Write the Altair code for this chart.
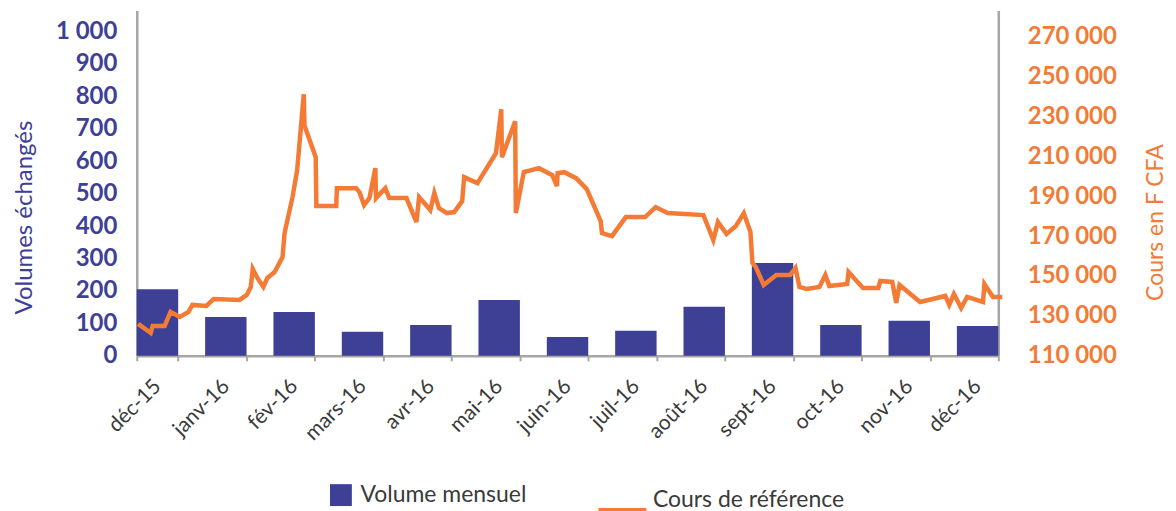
import altair as alt
import pandas as pd

# ---- data ----
months = ["déc-15", "janv-16", "fév-16", "mars-16", "avr-16", "mai-16", "juin-16",
          "juil-16", "août-16", "sept-16", "oct-16", "nov-16", "déc-16"]
volumes = [205, 120, 135, 74, 95, 172, 58, 77, 151, 286, 95, 108, 92]

# position of each price point in months from the start of the axis
price_pos = [0.02, 0.21, 0.24, 0.42, 0.51, 0.65, 0.78, 0.84, 1.05, 1.16, 1.55, 1.66,
             1.72, 1.75, 1.82, 1.91, 1.97, 2.08, 2.20, 2.23, 2.35, 2.42, 2.52, 2.53,
             2.70, 2.71, 3.01, 3.02, 3.31, 3.36, 3.43, 3.51, 3.60, 3.61, 3.75, 3.81,
             4.07, 4.22, 4.26, 4.43, 4.49, 4.56, 4.68, 4.79, 4.91, 4.94, 5.14, 5.42,
             5.50, 5.51, 5.71, 5.72, 5.84, 6.07, 6.27, 6.34, 6.35, 6.45, 6.63, 6.79,
             7.00, 7.02, 7.17, 7.38, 7.67, 7.83, 8.01, 8.55, 8.70, 8.77, 8.90, 9.04,
             9.16, 9.26, 9.29, 9.34, 9.46, 9.65, 9.86, 9.94, 10.00, 10.11, 10.30, 10.39,
             10.45, 10.72, 10.74, 10.89, 10.96, 11.19, 11.22, 11.40, 11.46, 11.51, 11.82,
             12.20, 12.26, 12.33, 12.44, 12.53, 12.77, 12.79, 12.92, 13.06]
price_val = [126000, 121500, 125000, 125000, 132000, 129500, 132000, 135500, 135000,
             138500, 138000, 140500, 144500, 153500, 149000, 144500, 149000, 152000,
             159500, 171500, 189500, 203000, 241000, 225500, 209500, 185000, 185000,
             194000, 194000, 192000, 185500, 189000, 204000, 189000, 194000, 189000,
             189000, 177000, 189500, 183000, 191500, 184000, 181500, 182000, 187500,
             199500, 196500, 211500, 233500, 209500, 227500, 181500, 202000, 204000,
             200500, 195000, 201500, 202000, 199000, 193500, 177500, 171500, 170000,
             179500, 179500, 184500, 181500, 180500, 168000, 177000, 171000, 175000,
             181500, 172000, 156500, 154500, 145500, 150500, 150500, 154000, 144500,
             143500, 144500, 150500, 145000, 146000, 152000, 146500, 144000, 144000,
             147500, 147000, 136500, 145500, 137000, 140000, 135500, 141000, 134000,
             139500, 137000, 146000, 139500, 139500]

vol_ticks = list(range(0, 1001, 100))
price_ticks = list(range(110000, 270001, 20000))

BLUE = "#3E4095"
ORANGE = "#F47B36"
GREY = "#A6A6A6"
TEXT = "#3A3A3A"
FONT = "Lato"

bars_df = pd.DataFrame({"mois": months, "volume": volumes, "serie": "Volume mensuel"})
line_df = pd.DataFrame({"idx": list(range(len(price_pos))), "pos": price_pos,
                        "cours": price_val, "serie": "Cours de référence"})

space_fmt = "replace(format(datum.value, ','), ',', ' ')"

bars = alt.Chart(bars_df).mark_bar().encode(
    x=alt.X("mois:N", sort=months,
            scale=alt.Scale(paddingInner=0.394, paddingOuter=0),
            axis=alt.Axis(title=None, labelAngle=-45, labelAlign="right",
                          labelBaseline="middle", labelFontSize=21,
                          labelColor=TEXT, labelPadding=22, domainColor=GREY,
                          domainWidth=2.5, ticks=True, tickColor=GREY, tickWidth=2,
                          tickSize=5, tickBand="extent")),
    y=alt.Y("volume:Q", scale=alt.Scale(domain=[0, 1065], nice=False, zero=True),
            axis=alt.Axis(values=vol_ticks, labelExpr=space_fmt, ticks=False,
                          grid=False, labelFontSize=24, labelFontWeight="bold",
                          labelColor=BLUE, labelPadding=20, domainColor=GREY,
                          domainWidth=2.5, title="Volumes échangés",
                          titleColor=BLUE, titleFontSize=24,
                          titleFontWeight="normal", titlePadding=19, titleY=207)),
    color=alt.Color("serie:N",
                    scale=alt.Scale(domain=["Volume mensuel"], range=[BLUE]),
                    legend=alt.Legend(title=None, orient="none", legendX=193,
                                      legendY=474, symbolType="square",
                                      symbolSize=480, symbolStrokeWidth=0,
                                      labelFontSize=23, labelColor=TEXT,
                                      labelOffset=8, labelLimit=400)),
)

line = alt.Chart(line_df).mark_line(strokeWidth=4.5, strokeJoin="miter").encode(
    x=alt.X("pos:Q", scale=alt.Scale(domain=[0, 13], nice=False, zero=False),
            axis=None),
    y=alt.Y("cours:Q", scale=alt.Scale(domain=[110000, 283000], nice=False, zero=False),
            axis=alt.Axis(orient="right", values=price_ticks, labelExpr=space_fmt,
                          ticks=False, grid=False, labelFontSize=24,
                          labelFontWeight="bold", labelColor=ORANGE,
                          labelPadding=29, domainColor=GREY, domainWidth=2.5,
                          title="Cours en F CFA", titleColor=ORANGE,
                          titleFontSize=23, titleFontWeight="normal",
                          titleAngle=270, titlePadding=51, titleY=212)),
    stroke=alt.Stroke("serie:N",
                      scale=alt.Scale(domain=["Cours de référence"], range=[ORANGE]),
                      legend=alt.Legend(title=None, orient="none", legendX=460,
                                        legendY=464, symbolType="M-1,0.42L1,0.42",
                                        symbolSize=2304, symbolStrokeWidth=4.5,
                                        labelFontSize=23, labelColor=TEXT,
                                        labelOffset=4, labelLimit=400)),
    order=alt.Order("idx:Q"),
)

chart = alt.layer(bars, line).resolve_scale(
    x="independent", y="independent", color="independent"
).properties(
    width=863, height=346,
    padding={"left": 4, "top": 2, "right": 0, "bottom": 0},
).configure(font=FONT).configure_view(stroke=None)

chart.save("out.html", embed_options={"renderer": "svg", "actions": False})
